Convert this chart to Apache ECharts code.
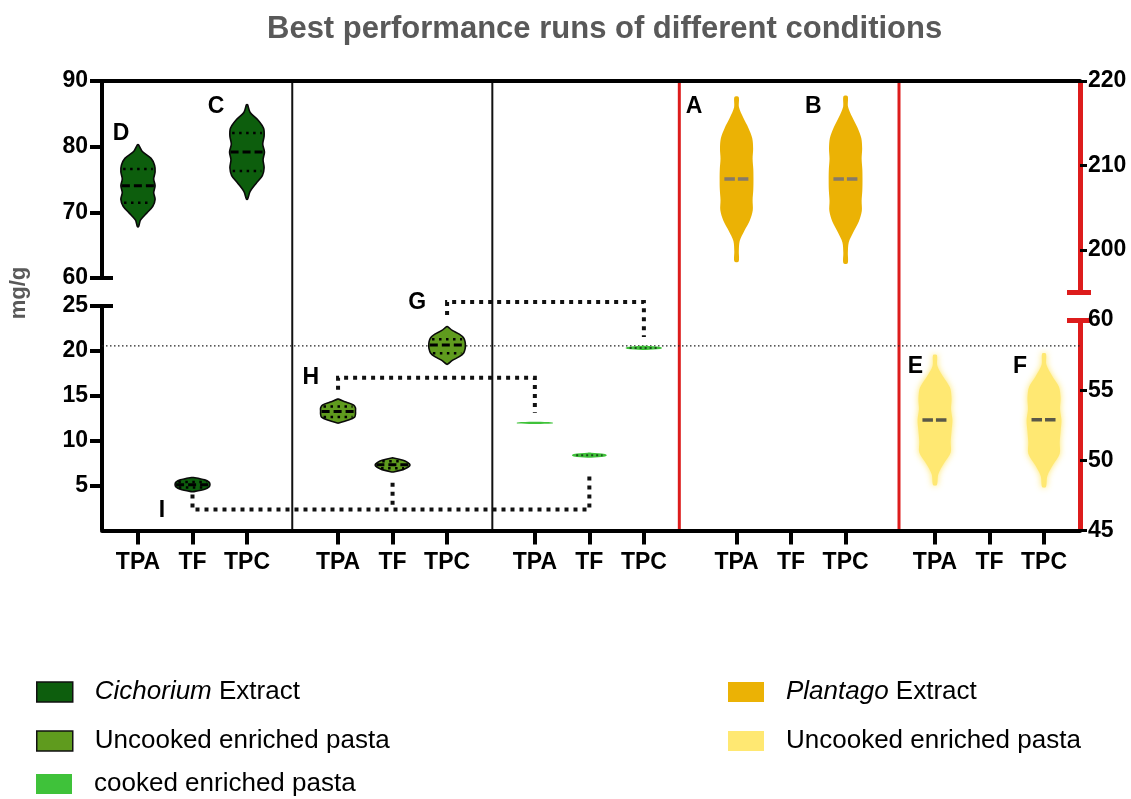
<!DOCTYPE html>
<html>
<head>
<meta charset="utf-8">
<script src="https://cdn.jsdelivr.net/npm/echarts@6/dist/echarts.min.js"></script>
<style>
  html, body { margin: 0; padding: 0; background: #fff; }
  #chart { width: 1131px; height: 799px; }
</style>
</head>
<body>
<div id="chart"></div>
<script>
// ---- data -------------------------------------------------------------
const categories = ['TPA', 'TF', 'TPC'];

// Broken left axis (mg/g) and broken right axis
const leftUpperTicks = [60, 70, 80, 90];
const leftLowerTicks = [5, 10, 15, 20, 25];
const rightUpperTicks = [200, 210, 220];
const rightLowerTicks = [45, 50, 55, 60];

// Each violin: panel, category index, range, quartiles, median and a
// density profile sampled evenly from max (top) down to min (bottom).
const cichoriumExtract = [
  { panel: 0, cat: 0, max: 80.3, min: 67.8, q3: 76.6, median: 74.05, q1: 71.45,
    density: [0.03, 0.25, 0.75, 0.95, 0.98, 0.90, 0.98, 0.90, 0.98, 0.85, 0.50, 0.15, 0.03] },
  { panel: 0, cat: 1, max: 5.9, min: 4.33, q3: 5.4, median: 5.1, q1: 4.8,
    density: [0.05, 0.70, 0.95, 1.00, 0.95, 0.70, 0.05] },
  { panel: 0, cat: 2, max: 86.4, min: 72.0, q3: 82.1, median: 79.2, q1: 76.3,
    density: [0.03, 0.18, 0.65, 0.95, 0.98, 0.90, 1.00, 0.92, 0.98, 0.88, 0.52, 0.18, 0.03] }
];
const uncookedCichoriumPasta = [
  { panel: 1, cat: 0, max: 14.63, min: 11.97, q3: 13.8, median: 13.26, q1: 12.63,
    density: [0.03, 0.45, 0.90, 1.00, 1.00, 1.00, 0.95, 0.60, 0.03] },
  { panel: 1, cat: 1, max: 8.08, min: 6.52, q3: 7.72, median: 7.33, q1: 6.94,
    density: [0.05, 0.60, 0.88, 1.00, 0.88, 0.60, 0.05] },
  { panel: 1, cat: 2, max: 22.7, min: 18.52, q3: 21.3, median: 20.67, q1: 19.74,
    density: [0.03, 0.30, 0.70, 0.95, 1.03, 1.05, 1.03, 0.95, 0.70, 0.30, 0.03] }
];
const cookedCichoriumPasta = [
  { panel: 2, cat: 0, max: 12.1, min: 11.85, median: 11.97,
    density: [0.10, 1.00, 1.05, 1.00, 0.10] },
  { panel: 2, cat: 1, max: 8.67, min: 8.11, median: 8.37,
    density: [0.10, 0.90, 1.00, 0.90, 0.10] },
  { panel: 2, cat: 2, max: 20.56, min: 20.11, median: 20.33,
    density: [0.10, 0.95, 1.05, 0.95, 0.10] }
];
const plantagoExtract = [
  { panel: 3, cat: 0, max: 218.1, min: 198.6, median: 208.4,
    density: [0.12, 0.14, 0.38, 0.68, 0.90, 0.95, 0.92, 0.96, 0.97, 0.96, 0.92, 0.93, 0.76, 0.45, 0.18, 0.13, 0.12] },
  { panel: 3, cat: 2, max: 218.2, min: 198.4, median: 208.4,
    density: [0.12, 0.14, 0.38, 0.68, 0.90, 0.95, 0.92, 0.96, 0.97, 0.96, 0.92, 0.93, 0.76, 0.45, 0.18, 0.13, 0.12] }
];
const uncookedPlantagoPasta = [
  { panel: 4, cat: 0, max: 57.5, min: 48.24, median: 52.88,
    density: [0.11, 0.14, 0.47, 0.86, 0.95, 0.92, 1.00, 0.95, 0.90, 0.90, 0.52, 0.19, 0.11] },
  { panel: 4, cat: 2, max: 57.6, min: 48.1, median: 52.9,
    density: [0.11, 0.14, 0.47, 0.86, 0.95, 0.92, 1.00, 0.95, 0.90, 0.90, 0.52, 0.19, 0.11] }
];

// Horizontal reference level (left lower scale)
const referenceLevel = 20.56;

// Comparison brackets on the left lower scale: [panel, cat] ends,
// bracket level, and where each leg stops.
const brackets = [
  { from: [1, 2], to: [2, 2], level: 25.44, fromEnd: 24.0, toEnd: 21.56, stubs: [] },
  { from: [1, 0], to: [2, 0], level: 17.0, fromEnd: 15.67, toEnd: 13.1, stubs: [] },
  { from: [0, 1], to: [2, 1], level: 2.33, fromEnd: 4.0, toEnd: 6.44, stubs: [[1, 1, 5.33]] }
];

// ---- layout -----------------------------------------------------------
const FONT = '"Liberation Sans", Arial, Helvetica, sans-serif';
const PLOT = { left: 102, width: 978 };
const X_SLOTS = 17.94;                          // plot width in category slots
const panelFirstSlot = [0.66, 4.33, 7.94, 11.64, 15.28];
const panelEdges = [3.49, 7.16, 10.59, 14.62];
const dividerStyle = [['#111', 2], ['#111', 2], ['#dd1c1c', 3], ['#dd1c1c', 3]];
const HALF_WIDTH = 0.32;                        // widest violin half-width, in slots
const RED = '#dd1c1c';

// Letter tags: [text, grid, panel, cat, slot offset, value]
const tags = [
  ['D', 'LT', 0, 0, -0.31, 82.0], ['C', 'LT', 0, 2, -0.57, 86.1],
  ['H', 'LB', 1, 0, -0.50, 17.0], ['G', 'LB', 1, 2, -0.55, 25.4],
  ['I', 'LB', 0, 1, -0.56, 2.2],
  ['A', 'RT', 3, 0, -0.78, 217.0], ['B', 'RT', 3, 2, -0.59, 217.0],
  ['E', 'RB', 4, 0, -0.36, 56.65], ['F', 'RB', 4, 2, -0.44, 56.65]
];

function catX(panel, cat) { return panelFirstSlot[panel] + cat; }
const tickPositions = [];
panelFirstSlot.forEach((_, p) => categories.forEach((_, c) => tickPositions.push(catX(p, c))));

// grid index / axis indices for each section
const sections = {
  LT: { grid: 1, x: 2, y: 1 },
  LB: { grid: 2, x: 3, y: 3 },
  RT: { grid: 3, x: 4, y: 5 },
  RB: { grid: 4, x: 5, y: 8 }
};

const styles = {
  cichorium: { fill: '#0d5e0d', stroke: '#0a0a0a', strokeWidth: 1.6,
    median: { color: '#000', width: 3, dash: [8, 4], inset: 1 },
    quart: { color: '#000', width: 2.5, dash: [2.5, 4.5], inset: 2 } },
  uncookedC: { fill: '#5f9b1e', stroke: '#0a0a0a', strokeWidth: 1.6,
    median: { color: '#000', width: 3, dash: [8, 4], inset: 1 },
    quart: { color: '#000', width: 2.5, dash: [2.5, 4.5], inset: 2 } },
  cookedC: { fill: '#3fc23a',
    median: { color: '#1d4a1d', width: 2, dash: [2, 3], inset: 4 } },
  plantago: { fill: '#ebb205',
    median: { color: '#857a6a', width: 3.5, dash: [10.5, 3], inset: 0, span: 0.72 } },
  uncookedP: { fill: '#ffe872', blur: 6, blurColor: 'rgba(255,228,90,0.9)',
    median: { color: '#5a5848', width: 3.5, dash: [10.5, 3], inset: 0, span: 0.72 } }
};

const legendLabels = {
  cichorium: ['Cichorium', ' Extract'],
  uncookedC: ['', 'Uncooked enriched pasta'],
  cookedC: ['', 'cooked enriched pasta'],
  plantago: ['Plantago', ' Extract'],
  uncookedP: ['', 'Uncooked enriched pasta']
};
const legendPlacement = [
  ['cichorium', 31, 674, '#111'], ['uncookedC', 31, 723, '#111'], ['cookedC', 31, 766, null],
  ['plantago', 723, 674, null], ['uncookedP', 723, 723, null]
];

// ---- helpers ----------------------------------------------------------
function densityAt(r, v) {
  const n = r.density.length;
  const t = (r.max - v) / (r.max - r.min) * (n - 1);
  const i = Math.max(0, Math.min(n - 2, Math.floor(t)));
  const f = Math.max(0, Math.min(1, t - i));
  return r.density[i] * (1 - f) + r.density[i + 1] * f;
}

function violinSeries(name, records, style, sec) {
  const s = sections[sec];
  return {
    type: 'custom', name, xAxisIndex: s.x, yAxisIndex: s.y, z: 4,
    itemStyle: { color: style.fill },
    data: records.map(r => [catX(r.panel, r.cat), r.median]),
    renderItem(params, api) {
      const r = records[params.dataIndex];
      const cx = api.value(0);
      const n = r.density.length;
      const right = [], left = [];
      for (let i = 0; i < n; i++) {
        const v = r.max - i * (r.max - r.min) / (n - 1);
        const hw = r.density[i] * HALF_WIDTH;
        right.push(api.coord([cx + hw, v]));
        left.unshift(api.coord([cx - hw, v]));
      }
      const children = [{
        type: 'polygon',
        shape: { points: right.concat(left), smooth: 0.3 },
        style: {
          fill: style.fill,
          stroke: style.stroke || null,
          lineWidth: style.strokeWidth || 0,
          shadowBlur: style.blur || 0,
          shadowColor: style.blurColor || 'rgba(0,0,0,0)'
        }
      }];
      const heightPx = api.coord([cx, r.min])[1] - api.coord([cx, r.max])[1];
      if (heightPx >= 3) {
        const lines = [];
        if (style.quart) { lines.push([r.q1, style.quart], [r.q3, style.quart]); }
        if (style.median) lines.push([r.median, style.median]);
        lines.forEach(([v, ls]) => {
          if (v == null) return;
          const hw = densityAt(r, v) * HALF_WIDTH * (ls.span || 1);
          const a = api.coord([cx - hw, v]), b = api.coord([cx + hw, v]);
          children.push({
            type: 'line',
            shape: { x1: a[0] + ls.inset, y1: a[1], x2: b[0] - ls.inset, y2: b[1] },
            style: { stroke: ls.color, lineWidth: ls.width, lineDash: ls.dash }
          });
        });
      }
      return { type: 'group', children };
    }
  };
}

function split(records, lowerMax) {
  return [records.filter(r => r.min > lowerMax), records.filter(r => r.min <= lowerMax)];
}

// ---- axes -------------------------------------------------------------
const labelFont = { fontSize: 23, fontWeight: 'bold', color: '#000', fontFamily: FONT };

function hiddenX(grid) {
  return { type: 'value', gridIndex: grid, min: 0, max: X_SLOTS, show: false };
}
function mainY(grid, pos, min, max, ticks, tickVals, lineColor, lineWidth, tickLen, tickWidth, margin) {
  return {
    type: 'value', gridIndex: grid, position: pos, min, max,
    axisLine: { show: true, onZero: false, lineStyle: { color: lineColor, width: lineWidth, cap: 'butt' } },
    axisTick: { show: true, customValues: tickVals, length: tickLen, lineStyle: { color: '#000', width: tickWidth } },
    axisLabel: Object.assign({ show: true, customValues: ticks, margin }, labelFont),
    splitLine: { show: false }
  };
}
function capY(grid, pos, min, max, value, inside, len, color, width) {
  return {
    type: 'value', gridIndex: grid, position: pos, min, max,
    axisLine: { show: false, onZero: false },
    axisTick: { show: true, inside, customValues: [value], length: len, lineStyle: { color, width } },
    axisLabel: { show: false },
    splitLine: { show: false }
  };
}

const grid = [
  { left: PLOT.left, width: PLOT.width, top: 81, height: 449.5 },   // frame
  { left: PLOT.left, width: PLOT.width, top: 81, height: 197 },     // left upper
  { left: PLOT.left, width: PLOT.width, top: 306, height: 224.5 },  // left lower
  { left: PLOT.left, width: PLOT.width, top: 81, height: 211 },     // right upper
  { left: PLOT.left, width: PLOT.width, top: 320, height: 210.5 }   // right lower
];

const xAxis = [
  {
    type: 'value', gridIndex: 0, position: 'bottom', min: 0, max: X_SLOTS, z: 6,
    axisLine: { show: true, onZero: false, lineStyle: { color: '#000', width: 4 } },
    axisTick: { show: true, customValues: tickPositions, length: 14, lineStyle: { color: '#000', width: 4 } },
    axisLabel: Object.assign({
      show: true, customValues: tickPositions, margin: 21, lineHeight: 23,
      formatter: v => {
        const k = tickPositions.findIndex(t => Math.abs(t - v) < 1e-6);
        return k < 0 ? '' : categories[k % categories.length];
      }
    }, labelFont),
    splitLine: { show: false }
  },
  {
    type: 'value', gridIndex: 0, position: 'top', min: 0, max: X_SLOTS, z: 6,
    axisLine: { show: true, onZero: false, lineStyle: { color: '#000', width: 4 } },
    axisTick: { show: false }, axisLabel: { show: false }, splitLine: { show: false }
  },
  hiddenX(1), hiddenX(2), hiddenX(3), hiddenX(4)
];

const yAxis = [
  { type: 'value', gridIndex: 0, min: 0, max: 1, show: false },
  mainY(1, 'left', 60, 90, leftUpperTicks, leftUpperTicks, '#000', 4, 12, 4, 14),
  capY(1, 'left', 60, 90, 60, true, 11, '#000', 4),
  mainY(2, 'left', 0, 25, leftLowerTicks, leftLowerTicks, '#000', 4, 12, 4, 14),
  capY(2, 'left', 0, 25, 25, true, 11, '#000', 4),
  mainY(3, 'right', 195, 220, rightUpperTicks, rightUpperTicks, RED, 5, 7, 3, 8),
  capY(3, 'right', 195, 220, 195, false, 11, RED, 5),
  capY(3, 'right', 195, 220, 195, true, 13, RED, 5),
  mainY(4, 'right', 45, 60, rightLowerTicks, [45, 50, 55], RED, 5, 7, 3, 8),
  capY(4, 'right', 45, 60, 60, false, 11, RED, 5),
  capY(4, 'right', 45, 60, 60, true, 13, RED, 5)
];

// ---- series -----------------------------------------------------------
const series = [];

// panel dividers
series.push({
  type: 'custom', xAxisIndex: 0, yAxisIndex: 0, z: 1, silent: true,
  data: panelEdges.map((x, i) => [x, i]),
  renderItem(params, api) {
    const top = api.coord([api.value(0), 1]);
    const bot = api.coord([api.value(0), 0]);
    const [color, width] = dividerStyle[api.value(1)];
    return { type: 'line', shape: { x1: top[0], y1: top[1], x2: bot[0], y2: bot[1] },
             style: { stroke: color, lineWidth: width } };
  }
});

// reference level
series.push({
  type: 'line', xAxisIndex: sections.LB.x, yAxisIndex: sections.LB.y, z: 2, silent: true,
  symbol: 'none', data: [[0, referenceLevel], [X_SLOTS, referenceLevel]],
  lineStyle: { color: '#222', width: 1.2, type: [1.5, 2.5] }
});

// violins
const [cichUpper, cichLower] = split(cichoriumExtract, 25);
series.push(violinSeries('cichorium', cichUpper, styles.cichorium, 'LT'));
series.push(violinSeries('cichorium', cichLower, styles.cichorium, 'LB'));
series.push(violinSeries('uncookedC', uncookedCichoriumPasta, styles.uncookedC, 'LB'));
series.push(violinSeries('cookedC', cookedCichoriumPasta, styles.cookedC, 'LB'));
series.push(violinSeries('plantago', plantagoExtract, styles.plantago, 'RT'));
series.push(violinSeries('uncookedP', uncookedPlantagoPasta, styles.uncookedP, 'RB'));

// comparison brackets
const bracketLine = { color: '#111', width: 4, type: [4, 5], cap: 'butt', join: 'miter' };
brackets.forEach(b => {
  const x1 = catX(b.from[0], b.from[1]);
  const x2 = catX(b.to[0], b.to[1]);
  const paths = [[[x1, b.fromEnd], [x1, b.level], [x2, b.level], [x2, b.toEnd]]];
  b.stubs.forEach(([p, c, end]) => paths.push([[catX(p, c), end], [catX(p, c), b.level]]));
  paths.forEach(data => series.push({
    type: 'line', xAxisIndex: sections.LB.x, yAxisIndex: sections.LB.y, z: 3, silent: true,
    clip: false, symbol: 'none', data, lineStyle: bracketLine
  }));
});

// letter tags, drawn as plain text at their anchor
Object.keys(sections).forEach(sec => {
  const items = tags.filter(t => t[1] === sec)
    .map(([text, , p, c, dx, v]) => ({ name: text, value: [catX(p, c) + dx, v] }));
  series.push({
    type: 'custom', xAxisIndex: sections[sec].x, yAxisIndex: sections[sec].y, z: 5,
    silent: true, data: items,
    renderItem(params, api) {
      const pt = api.coord([api.value(0), api.value(1)]);
      return {
        type: 'text', x: pt[0], y: pt[1],
        style: { text: items[params.dataIndex].name, fill: '#000',
                 font: 'bold 23px ' + FONT, align: 'center', verticalAlign: 'middle' }
      };
    }
  });
});

// ---- legend -----------------------------------------------------------
const legend = legendPlacement.map(([name, left, top, border]) => ({
  left, top, orient: 'vertical', selectedMode: false,
  itemWidth: 36, itemHeight: 20,
  data: [{ name, icon: 'rect',
           itemStyle: { color: styles[name].fill, borderColor: border || styles[name].fill,
                        borderWidth: border ? 1.5 : 0 } }],
  formatter: n => {
    const [it, rest] = legendLabels[n];
    return '{g| }' + (it ? '{i|' + it + '}' : '') + '{t|' + rest + '}';
  },
  textStyle: {
    fontSize: 26, fontFamily: FONT, color: '#000', lineHeight: 26,
    rich: {
      g: { width: 17, fontSize: 26 },
      i: { fontStyle: 'italic', fontSize: 26, fontFamily: FONT, color: '#000' },
      t: { fontSize: 26, fontFamily: FONT, color: '#000' }
    }
  }
}));

const chart = echarts.init(document.getElementById('chart'), null, { renderer: 'canvas' });
chart.setOption({
  animation: false,
  backgroundColor: '#fff',
  textStyle: { fontFamily: FONT },
  title: {
    text: 'Best performance runs of different conditions',
    left: 262, top: 9,
    textStyle: { fontSize: 31, fontWeight: 'bold', color: '#595959', fontFamily: FONT }
  },
  graphic: [{
    type: 'text', x: 19, y: 293, rotation: Math.PI / 2,
    style: { text: 'mg/g', fontSize: 22, fontWeight: 'bold', fill: '#595959', fontFamily: FONT,
             textAlign: 'center', textVerticalAlign: 'middle' }
  }],
  legend, grid, xAxis, yAxis, series
});
</script>
</body>
</html>
